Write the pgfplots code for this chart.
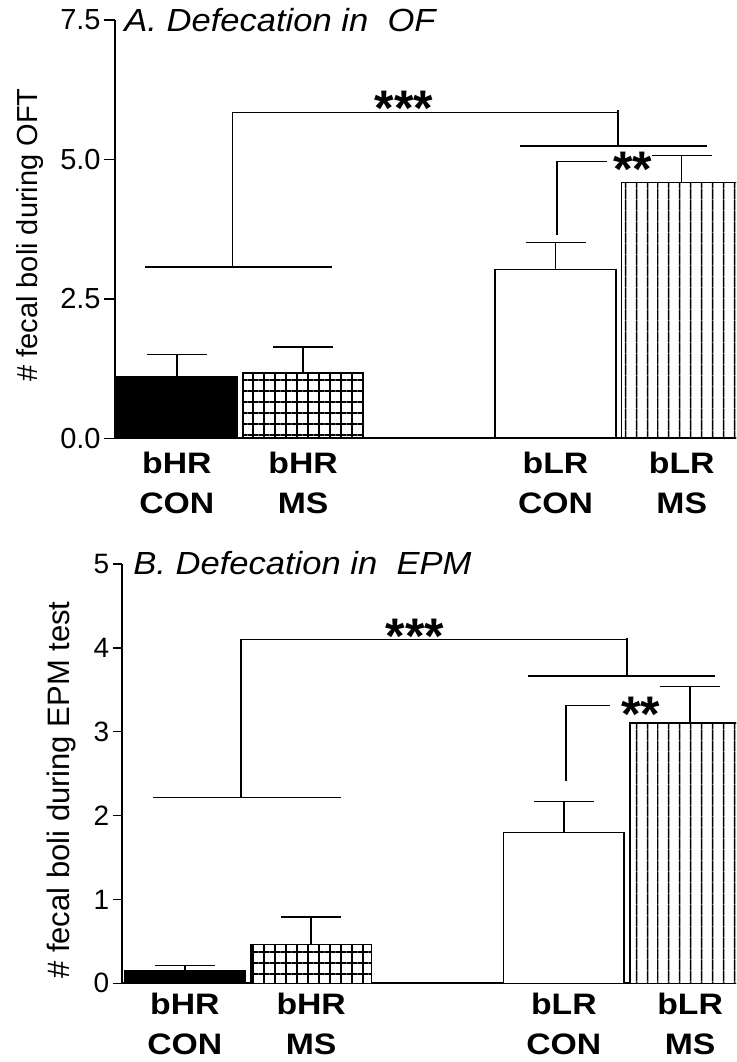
\documentclass[border=0pt]{standalone}
\usepackage{fontspec}
\setmainfont{Liberation Sans}
\newfontfamily\titlefont[FakeStretch=1.08]{Liberation Sans}
\newfontfamily\catfont[FakeStretch=1.14]{Liberation Sans}
\usepackage{pgfplots}
\pgfplotsset{compat=1.18}
\usetikzlibrary{patterns.meta}

\tikzset{
  stars/.style={anchor=base, inner sep=0pt, font=\bfseries\fontsize{25}{25}\selectfont},
}
\pgfplotsset{
  fecal/.style={
    scale only axis,
    axis lines=left,
    axis line style={-, line width=1pt},
    clip=true,
    ymin=0,
    xtick={0,1,3,4},
    xticklabels={bHR\\CON, bHR\\MS, bLR\\CON, bLR\\MS},
    major x tick style={draw=none},
    xticklabel style={align=center, anchor=north, inner sep=0pt,
      font=\catfont\bfseries\fontsize{14.8}{20}\selectfont},
    tick align=outside,
    major y tick style={line width=0.75pt, black},
    /pgf/number format/assume math mode=true,
  },
  errbar/.style={error bars/.cd, y dir=plus, y explicit,
    error bar style={line width=0.75pt, black},
    error mark=|,
    error mark options={black, mark size=15pt, line width=0.75pt}},
  barbase/.style={ybar, bar width=0.955, bar shift=0pt, draw=black, line width=0.8pt},
  brk/.style={black, line width=0.75pt, mark=none},
}

\begin{document}
\begin{tikzpicture}
\useasboundingbox (0,0) rectangle (368pt,531pt);

% ---------------- Panel A ----------------
\begin{axis}[fecal,
  at={(57.5pt,311.85pt)}, anchor=south west,
  width=310.5pt, height=209.15pt,
  xmin=-0.49, xmax=4.43, ymax=7.5,
  ytick={0,2.5,5,7.5},
  major tick length=5.5pt,
  yticklabel style={font=\fontsize{14.5}{17}\selectfont, inner xsep=1.5pt,
    /pgf/number format/.cd, fixed, fixed zerofill, precision=1},
  xticklabel style={yshift=-1.2pt},
  title={\itshape A. Defecation in\ \ OF},
  title style={at={(axis description cs:0,1)}, anchor=base west, inner sep=0pt,
    xshift=4.5pt, yshift=-11.65pt, font=\titlefont\fontsize{16}{19}\selectfont},
  ylabel={\# fecal boli during OFT},
  ylabel style={at={(axis description cs:-0.137,0.486)}, anchor=center,
    font=\fontsize{14.5}{17}\selectfont},
]
\addplot[barbase, fill=black, errbar] coordinates {(0,1.105) +- (0,0.40)};
\addplot[barbase, fill=white, postaction={pattern={Hatch[distance=5.5pt, line width=0.85pt]}, pattern color=black}, errbar] coordinates {(1,1.176) +- (0,0.46)};
\addplot[barbase, fill=white, errbar] coordinates {(3,3.03) +- (0,0.485)};
\addplot[barbase, fill=white, postaction={pattern={Lines[angle=90, distance=5.4pt, line width=0.8pt]}, pattern color=black}, errbar] coordinates {(4,4.59) +- (0,0.48)};
% brackets
\addplot[brk] coordinates {(-0.25,3.07) (1.23,3.07)};
\addplot[brk] coordinates {(0.44,3.07) (0.44,5.845) (3.494,5.845)};
\addplot[brk] coordinates {(3.494,5.88) (3.494,5.24)};
\addplot[brk] coordinates {(2.72,5.24) (4.20,5.24)};
\addplot[brk] coordinates {(3.01,3.645) (3.01,4.96) (3.41,4.96)};
\node[stars] at (axis cs:1.80,5.61) {***};
\node[stars] at (axis cs:3.61,4.52) {**};
\end{axis}

% ---------------- Panel B ----------------
\begin{axis}[fecal,
  at={(60.85pt,39.35pt)}, anchor=south west,
  width=307.15pt, height=209.65pt,
  xmin=-0.5, xmax=4.363, ymax=5,
  ytick={0,1,2,3,4,5},
  major tick length=4.5pt,
  yticklabel style={font=\fontsize{14}{17}\selectfont, inner xsep=1.5pt},
  xticklabel style={yshift=-0.35pt},
  title={\itshape B. Defecation in\ \ EPM},
  title style={at={(axis description cs:0,1)}, anchor=base west, inner sep=0pt,
    xshift=5.65pt, yshift=-11.35pt, font=\titlefont\fontsize{16}{19}\selectfont},
  ylabel={\# fecal boli during EPM test},
  ylabel style={at={(axis description cs:-0.098,0.461)}, anchor=center,
    font=\fontsize{15.5}{18}\selectfont},
]
\addplot[barbase, fill=black, errbar] coordinates {(0,0.150) +- (0,0.065)};
\addplot[barbase, fill=white, postaction={pattern={Hatch[distance=5.5pt, line width=0.85pt]}, pattern color=black}, errbar] coordinates {(1,0.465) +- (0,0.325)};
\addplot[barbase, fill=white, errbar] coordinates {(3,1.80) +- (0,0.365)};
\addplot[barbase, fill=white, postaction={pattern={Lines[angle=90, distance=5.4pt, line width=0.8pt]}, pattern color=black}, errbar] coordinates {(4,3.104) +- (0,0.433)};
% brackets
\addplot[brk] coordinates {(-0.25,2.218) (1.235,2.218)};
\addplot[brk] coordinates {(0.443,2.218) (0.443,4.097) (3.50,4.097)};
\addplot[brk] coordinates {(3.50,4.12) (3.50,3.664)};
\addplot[brk] coordinates {(2.72,3.664) (4.20,3.664)};
\addplot[brk] coordinates {(3.017,2.416) (3.017,3.31) (3.365,3.31)};
\node[stars] at (axis cs:1.82,3.93) {***};
\node[stars] at (axis cs:3.61,3.0) {**};
\end{axis}
\end{tikzpicture}
\end{document}
